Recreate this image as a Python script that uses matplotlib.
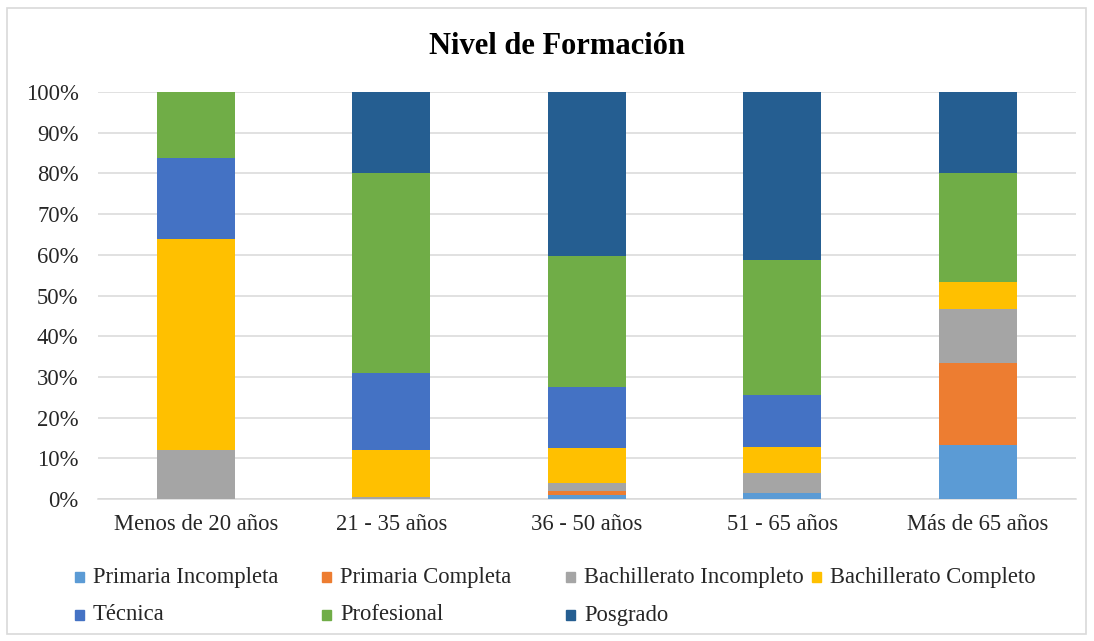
import numpy as np
import matplotlib
matplotlib.use("Agg")
import matplotlib.pyplot as plt
from matplotlib.patches import Rectangle
from matplotlib.ticker import PercentFormatter

plt.rcParams['font.family'] = ['Liberation Serif', 'DejaVu Serif']

grupos = ["Menos de 20 años", "21 - 35 años", "36 - 50 años", "51 - 65 años", "Más de 65 años"]
niveles = ["Primaria Incompleta", "Primaria Completa", "Bachillerato Incompleto",
           "Bachillerato Completo", "Técnica", "Profesional", "Posgrado"]

# porcentajes por nivel, en el orden de los grupos de edad
primaria_incompleta = [0.0, 0.0, 0.9, 1.5, 13.3]
primaria_completa = [0.0, 0.0, 1.1, 0.0, 20.0]
bachillerato_incompleto = [12.0, 0.6, 1.9, 4.8, 13.3]
bachillerato_completo = [52.0, 11.4, 8.6, 6.4, 6.7]
tecnica = [19.8, 19.0, 15.1, 12.9, 0.0]
profesional = [16.2, 49.1, 32.1, 33.1, 26.7]
posgrado = [0.0, 19.9, 40.3, 41.3, 20.0]

series = [primaria_incompleta, primaria_completa, bachillerato_incompleto,
          bachillerato_completo, tecnica, profesional, posgrado]
colores = ["#5B9BD5", "#ED7D31", "#A5A5A5", "#FFC000", "#4472C4", "#70AD47", "#255E91"]

fig = plt.figure(figsize=(10.94, 6.41), dpi=100)
ax = fig.add_axes([98 / 1094, 1 - 499 / 641, 977.5 / 1094, 407 / 641])

x = np.arange(len(grupos))
base = np.zeros(len(grupos))
for vals, col in zip(series, colores):
    ax.bar(x, vals, width=0.4, bottom=base, color=col, zorder=3)
    base += np.array(vals)

ax.set_xlim(-0.5, len(grupos) - 0.5)
ax.set_ylim(0, 100)
ax.set_yticks(np.arange(0, 101, 10))
ax.yaxis.set_major_formatter(PercentFormatter(decimals=0))
ax.set_xticks(x)
ax.set_xticklabels(grupos)
ax.tick_params(axis='both', length=0, labelsize=16.3, colors='#262626')
ax.tick_params(axis='y', pad=14)
ax.tick_params(axis='x', pad=11)
ax.grid(axis='y', color='#D9D9D9', linewidth=1.1, zorder=0)
for s in ['top', 'right', 'left']:
    ax.spines[s].set_visible(False)
ax.spines['bottom'].set_color('#D9D9D9')
ax.spines['bottom'].set_linewidth(1.1)

fig.text(557 / 1094, 1 - 47 / 641, "Nivel de Formación", ha='center', va='center',
         fontsize=22, fontweight='bold', color='black')

# leyenda con columnas de igual ancho
col_x = [75, 322, 566, 812]
row_y = [577, 615]
for i, (nombre, col) in enumerate(zip(niveles, colores)):
    px = col_x[i % 4]
    py = row_y[i // 4]
    fig.patches.append(Rectangle((px / 1094, 1 - (py + 5) / 641), 9 / 1094, 10 / 641,
                                 transform=fig.transFigure, color=col))
    fig.text((px + 18) / 1094, 1 - py / 641, nombre, ha='left', va='center',
             fontsize=16.3, color='#262626')

# marco exterior del gráfico
fig.patches.append(Rectangle((7 / 1094, 7 / 641), 1079 / 1094, 626 / 641,
                             transform=fig.transFigure, fill=False,
                             edgecolor='#D9D9D9', linewidth=1.2))

fig.savefig("out.png", dpi=100)
